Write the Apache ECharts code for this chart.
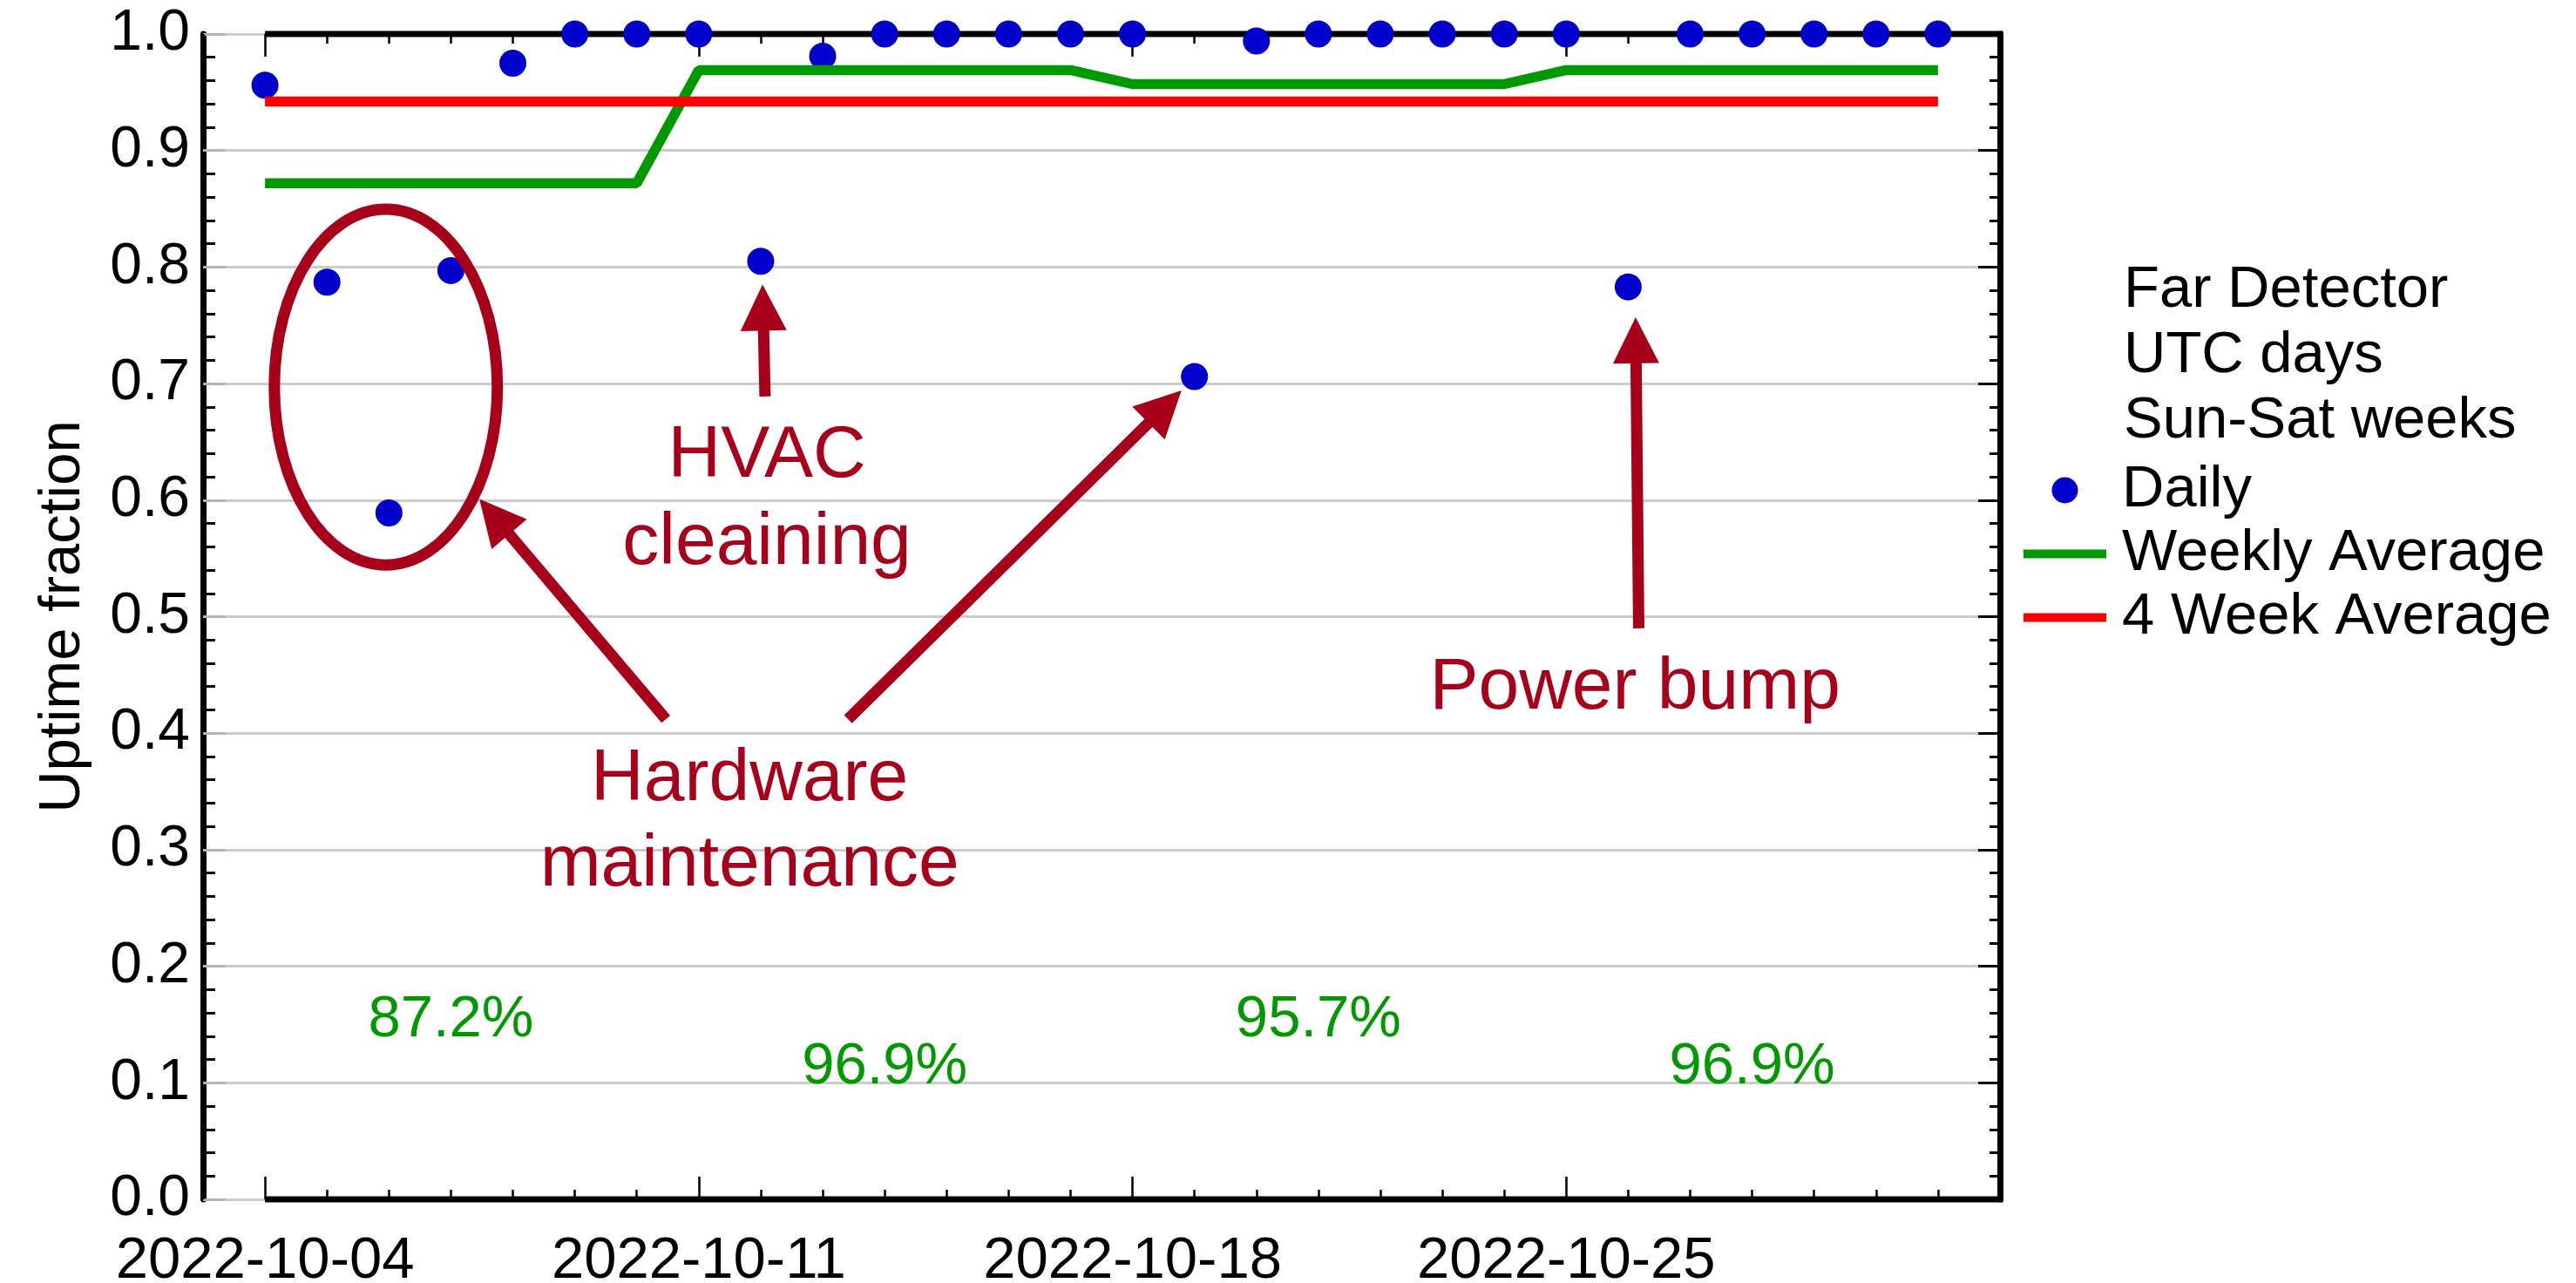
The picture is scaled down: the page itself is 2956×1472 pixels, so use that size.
<!DOCTYPE html>
<html>
<head>
<meta charset="utf-8">
<script src="https://cdn.jsdelivr.net/npm/echarts@6/dist/echarts.min.js"></script>
<style>
html,body{margin:0;padding:0;background:#fff;}
#chart{width:2956px;height:1472px;}
</style>
</head>
<body>
<div id="chart"></div>
<script>
// ---------------- data ----------------
const axisCategories = [
  '2022-10-03','2022-10-04','2022-10-05','2022-10-06','2022-10-07','2022-10-08','2022-10-09','2022-10-10',
  '2022-10-11','2022-10-12','2022-10-13','2022-10-14','2022-10-15','2022-10-16','2022-10-17',
  '2022-10-18','2022-10-19','2022-10-20','2022-10-21','2022-10-22','2022-10-23','2022-10-24',
  '2022-10-25','2022-10-26','2022-10-27','2022-10-28','2022-10-29','2022-10-30','2022-10-31','2022-11-01'
];
const xTickLabels = ['2022-10-04','2022-10-11','2022-10-18','2022-10-25'];

const dailyDates = [
  '2022-10-04','2022-10-05','2022-10-06','2022-10-07','2022-10-08','2022-10-09','2022-10-10',
  '2022-10-11','2022-10-12','2022-10-13','2022-10-14','2022-10-15','2022-10-16','2022-10-17',
  '2022-10-18','2022-10-19','2022-10-20','2022-10-21','2022-10-22','2022-10-23','2022-10-24',
  '2022-10-25','2022-10-26','2022-10-27','2022-10-28','2022-10-29','2022-10-30','2022-10-31'
];
const dailyUptime = [
  0.956, 0.787, 0.589, 0.797, 0.975, 1.000, 1.000,
  1.000, 0.805, 0.981, 1.000, 1.000, 1.000, 1.000,
  1.000, 0.706, 0.994, 1.000, 1.000, 1.000, 1.000,
  1.000, 0.783, 1.000, 1.000, 1.000, 1.000, 1.000
];
const weeklyAverage = [
  0.872, 0.872, 0.872, 0.872, 0.872, 0.872, 0.872,
  0.969, 0.969, 0.969, 0.969, 0.969, 0.969, 0.969,
  0.957, 0.957, 0.957, 0.957, 0.957, 0.957, 0.957,
  0.969, 0.969, 0.969, 0.969, 0.969, 0.969, 0.969
];
const fourWeekAverage = [
  0.942, 0.942, 0.942, 0.942, 0.942, 0.942, 0.942,
  0.942, 0.942, 0.942, 0.942, 0.942, 0.942, 0.942,
  0.942, 0.942, 0.942, 0.942, 0.942, 0.942, 0.942,
  0.942, 0.942, 0.942, 0.942, 0.942, 0.942, 0.942
];

// weekly percentage labels
const weekLabelText = ['87.2%', '96.9%', '95.7%', '96.9%'];
const weekLabelDate = ['2022-10-07', '2022-10-14', '2022-10-21', '2022-10-28'];
const weekLabelY    = [0.154, 0.113, 0.154, 0.113];

const legendHeader = ['Far Detector', 'UTC days', 'Sun-Sat weeks'];

// annotations, in axis units: [day offset from first category, uptime]
const ellipseCenter = [2.95, 0.697];
const ellipseRadius = [1.80, 0.1526];
const arrowTails = [[7.47, 0.412], [10.41, 0.412], [9.07, 0.689], [23.17, 0.490]];
const arrowTips  = [[4.46, 0.601], [15.79, 0.694], [9.03, 0.785], [23.12, 0.757]];
const annoTexts  = ['HVAC', 'cleaining', 'Hardware', 'maintenance', 'Power bump'];
const annoBase   = [[9.10, 0.620], [9.10, 0.545], [8.82, 0.342], [8.82, 0.269], [23.11, 0.421]];

// ---------------- styling ----------------
const FONT = "'Liberation Sans', Arial, Helvetica, sans-serif";
const BLUE = '#0000cc', GREEN = '#009900', RED = '#ff0000', ANNO = '#a8001a';
const LINE_ICON = 'path://M0,0H95V10H0Z';

const chart = echarts.init(document.getElementById('chart'), null, {renderer: 'canvas'});

const isMajor = (i, v) => xTickLabels.indexOf(v) >= 0;
const xBase = {
  type: 'category', data: axisCategories, boundaryGap: false,
  axisLine: {show: false}, splitLine: {show: false}, axisLabel: {show: false}
};
const minorTick = {show: true, inside: true, interval: 0, length: 11, lineStyle: {color: '#000', width: 2.5}};
const majorTick = {show: true, inside: true, interval: isMajor, length: 26, lineStyle: {color: '#000', width: 2.5}};

const option = {
  animation: false,
  backgroundColor: '#ffffff',
  textStyle: {fontFamily: FONT},
  grid: {left: 233, right: 661, top: 39, bottom: 96, containLabel: false, outerBoundsMode: 'none'},
  xAxis: [
    Object.assign({}, xBase, {position: 'bottom', axisTick: minorTick}),
    Object.assign({}, xBase, {position: 'bottom', axisTick: majorTick,
      axisLabel: {show: true, interval: isMajor, fontSize: 67, color: '#000', margin: 38, fontFamily: FONT}}),
    Object.assign({}, xBase, {position: 'top', axisTick: minorTick}),
    Object.assign({}, xBase, {position: 'top', axisTick: majorTick})
  ],
  yAxis: [
    {
      type: 'value', min: 0, max: 1, interval: 0.1, position: 'left',
      axisLine: {show: true, lineStyle: {color: '#000', width: 7}},
      axisTick: {show: true, inside: true, length: 26, lineStyle: {color: '#b4b4b4', width: 3}},
      minorTick: {show: true, splitNumber: 5, length: 14, lineStyle: {color: '#000', width: 3}},
      splitLine: {show: true, lineStyle: {color: '#cccccc', width: 3}},
      axisLabel: {formatter: v => v.toFixed(1), fontSize: 66, color: '#000', margin: 15, fontFamily: FONT},
      name: 'Uptime fraction', nameLocation: 'middle', nameGap: 127, nameRotate: 90,
      nameTextStyle: {fontSize: 67, color: '#000', fontFamily: FONT}
    },
    {
      type: 'value', min: 0, max: 1, interval: 0.1, position: 'right',
      axisLine: {show: true, lineStyle: {color: '#000', width: 7}},
      axisTick: {show: true, inside: true, length: 25, lineStyle: {color: '#000', width: 3}},
      minorTick: {show: true, splitNumber: 5, length: 12, lineStyle: {color: '#000', width: 3}},
      splitLine: {show: false}, axisLabel: {show: false}
    }
  ],
  legend: {
    orient: 'vertical', left: 2317, top: 521, itemWidth: 95, itemHeight: 30, itemGap: 0,
    selectedMode: false,
    itemStyle: {borderWidth: 0},
    textStyle: {fontSize: 67, color: '#000', fontFamily: FONT, lineHeight: 61, padding: [0, 0, 12, 13]},
    data: [
      {name: 'Daily', icon: 'circle'},
      {name: 'Weekly Average', icon: LINE_ICON},
      {name: '4 Week Average', icon: LINE_ICON}
    ]
  },
  series: [
    {
      name: 'Daily', type: 'scatter', xAxisIndex: 0, yAxisIndex: 0, z: 2,
      symbol: 'circle', symbolSize: 31, itemStyle: {color: BLUE, opacity: 1},
      data: dailyDates.map((d, i) => [d, dailyUptime[i]])
    },
    {
      name: 'Weekly Average', type: 'line', xAxisIndex: 0, yAxisIndex: 0, z: 3,
      symbol: 'none', showSymbol: false, color: GREEN, itemStyle: {color: GREEN},
      lineStyle: {color: GREEN, width: 11.5, opacity: 1},
      data: dailyDates.map((d, i) => [d, weeklyAverage[i]])
    },
    {
      name: '4 Week Average', type: 'line', xAxisIndex: 0, yAxisIndex: 0, z: 4,
      symbol: 'none', showSymbol: false, color: RED, itemStyle: {color: RED},
      lineStyle: {color: RED, width: 11.5, opacity: 1},
      data: dailyDates.map((d, i) => [d, fourWeekAverage[i]])
    }
  ]
};
chart.setOption(option);

// ------------- annotations via axis conversion -------------
const nCat = axisCategories.length - 1;
const p00 = chart.convertToPixel({xAxisIndex: 0, yAxisIndex: 0}, [axisCategories[0], 0]);
const p11 = chart.convertToPixel({xAxisIndex: 0, yAxisIndex: 0}, [axisCategories[nCat], 1]);
function px(d, v) {
  return [p00[0] + (p11[0] - p00[0]) * d / nCat, p00[1] + (p11[1] - p00[1]) * v];
}
function catIndex(name) { return axisCategories.indexOf(name); }

const elements = [];

// frame lines (top & bottom) starting at first data day
[0, 1].forEach(v => {
  const a = px(1, v), b = px(nCat, v);
  elements.push({type: 'line', z: 1, shape: {x1: a[0], y1: a[1], x2: b[0] + 3.5, y2: b[1]},
    style: {stroke: '#000', lineWidth: 7}});
});

// ellipse
const ec = px(ellipseCenter[0], ellipseCenter[1]);
const erx = px(ellipseCenter[0] + ellipseRadius[0], 0)[0] - px(ellipseCenter[0], 0)[0];
const ery = px(0, 0)[1] - px(0, ellipseRadius[1])[1];
elements.push({type: 'ellipse', z: 10, shape: {cx: ec[0], cy: ec[1], rx: erx, ry: ery},
  style: {stroke: ANNO, fill: null, lineWidth: 13}});

// arrows
const HEAD_LEN = 53, HEAD_W = 53, SHAFT_W = 13;
arrowTails.forEach((t, i) => {
  const T = px(t[0], t[1]);
  const P = px(arrowTips[i][0], arrowTips[i][1]);
  const dx = P[0] - T[0], dy = P[1] - T[1];
  const len = Math.sqrt(dx * dx + dy * dy);
  const ux = dx / len, uy = dy / len;
  const nx = -uy, ny = ux;
  const B = [P[0] - ux * HEAD_LEN, P[1] - uy * HEAD_LEN];
  elements.push({type: 'line', z: 10,
    shape: {x1: T[0], y1: T[1], x2: B[0] + ux * 2, y2: B[1] + uy * 2},
    style: {stroke: ANNO, lineWidth: SHAFT_W, lineCap: 'butt'}});
  elements.push({type: 'polygon', z: 10,
    shape: {points: [P, [B[0] + nx * HEAD_W / 2, B[1] + ny * HEAD_W / 2], [B[0] - nx * HEAD_W / 2, B[1] - ny * HEAD_W / 2]]},
    style: {fill: ANNO}});
});

// annotation texts (baseline -> middle)
const ANNO_SIZE = 84;
annoTexts.forEach((s, i) => {
  const p = px(annoBase[i][0], annoBase[i][1]);
  elements.push({type: 'text', z: 10, x: p[0], y: p[1] - 0.28 * ANNO_SIZE,
    style: {text: s, fill: ANNO, fontSize: ANNO_SIZE, fontFamily: FONT, align: 'center', verticalAlign: 'middle'}});
});

// weekly percentage labels
weekLabelText.forEach((s, i) => {
  const p = px(catIndex(weekLabelDate[i]), weekLabelY[i]);
  elements.push({type: 'text', z: 10, x: p[0], y: p[1],
    style: {text: s, fill: GREEN, fontSize: 67, fontFamily: FONT, align: 'center', verticalAlign: 'middle'}});
});

// legend header lines
const legendBox = {x: 2437, y0: 334, step: 75};
legendHeader.forEach((s, i) => {
  elements.push({type: 'text', z: 10, x: legendBox.x, y: legendBox.y0 + i * legendBox.step,
    style: {text: s, fill: '#000', fontSize: 67, fontFamily: FONT, align: 'left', verticalAlign: 'middle'}});
});

chart.setOption({graphic: {elements: elements}});
</script>
</body>
</html>
